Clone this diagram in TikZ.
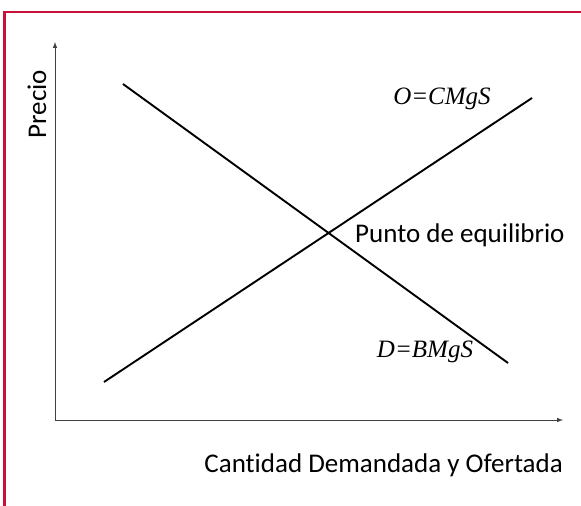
\documentclass[tikz,border=0pt]{standalone}
\usepackage{fontspec}
\setmainfont[Ligatures=NoCommon]{Carlito}
\newfontfamily\ecfont{Liberation Serif}
\definecolor{marco}{RGB}{200,16,58}
\begin{document}
\begin{tikzpicture}[x=1pt,y=-1pt,
    eje/.style={draw=black!75,line width=1pt,-latex},
    curva/.style={line width=1.9pt},
    rotulo/.style={inner sep=0pt,font=\fontsize{27}{30}\selectfont},
    ecuacion/.style={inner sep=0pt,font=\ecfont\itshape\fontsize{25}{27}\selectfont}]
    \useasboundingbox (0,0) rectangle (581,506);
    % marco
    \draw[marco,line width=2.8pt] (4.5,506)--(4.5,12)--(581,12);
    % ejes
    \coordinate (origen) at (55,420);
    \coordinate (ymax) at (55,42);
    \coordinate (xmax) at (563,420);
    \draw[eje] (origen)--(ymax);
    \draw[eje] (origen)--(xmax);
    \node[rotulo,rotate=90] (precio) at (37,104) {Precio};
    \node[rotulo,anchor=east] (cantidad) at (563,465) {Cantidad Demandada y Ofertada};
    % demanda y oferta
    \coordinate (d1) at (123,84);
    \coordinate (d2) at (508,363);
    \coordinate (o1) at (104,382);
    \coordinate (o2) at (532,98);
    \draw[curva] (d1)--(d2);
    \draw[curva] (o1)--(o2);
    \node[rotulo,anchor=west] (equilibrio) at (355,235) {Punto de equilibrio};
    \node[ecuacion] (oferta) at (442,99) {O=CMgS};
    \node[ecuacion] (demanda) at (425,352) {D=BMgS};
\end{tikzpicture}
\end{document}
